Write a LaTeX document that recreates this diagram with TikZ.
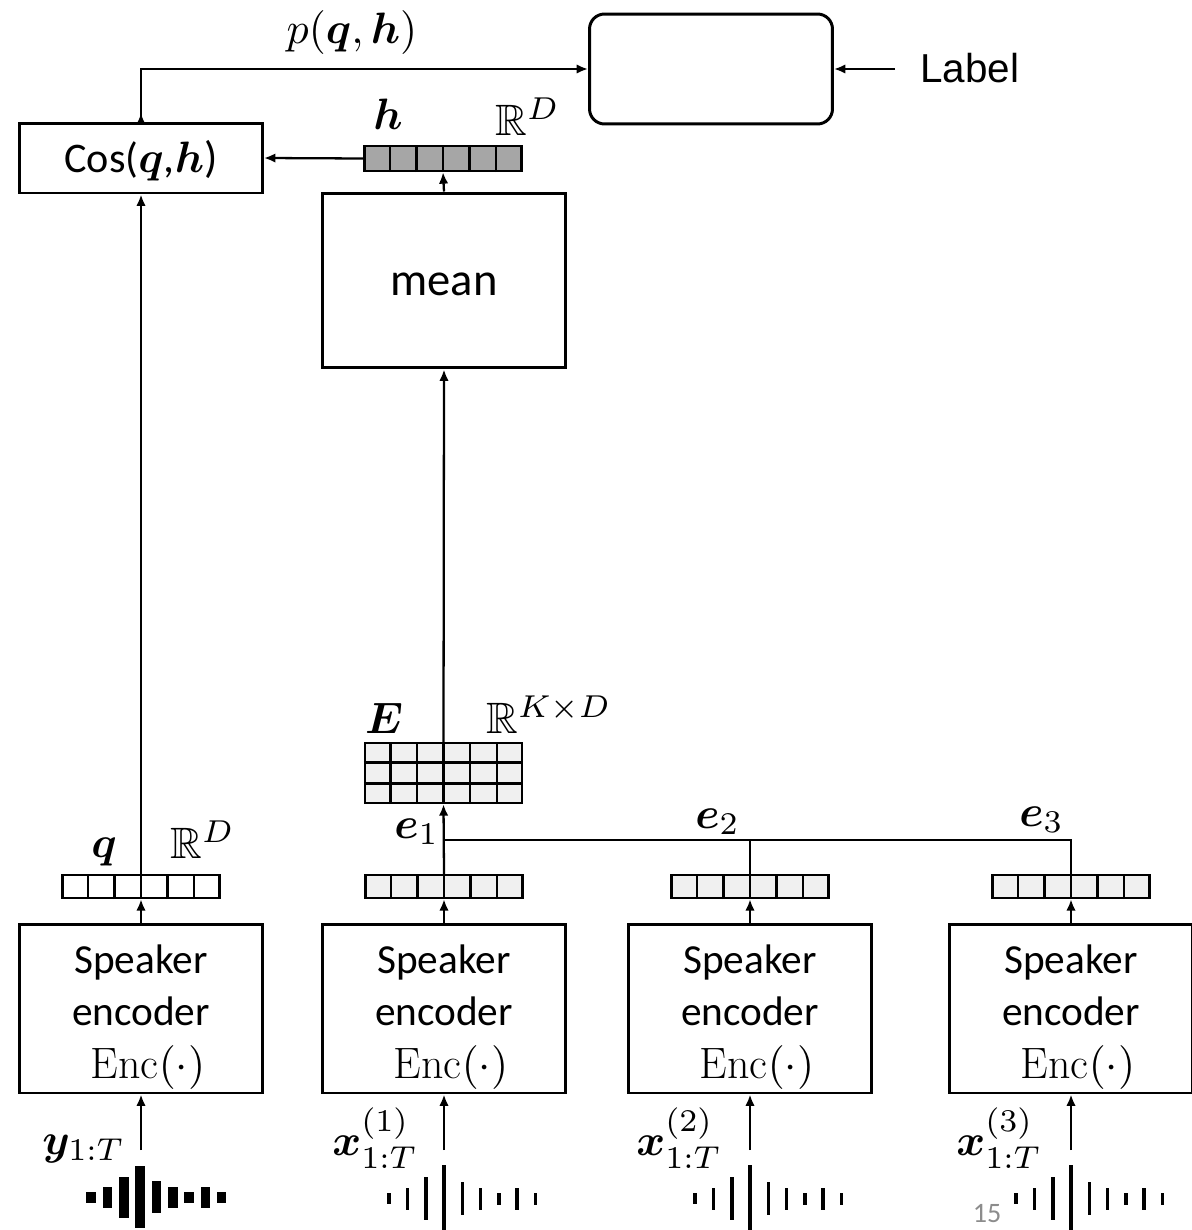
\documentclass[tikz,border=0pt]{standalone}
\usepackage{amsmath,amssymb,bm}
\usepackage{fontspec}
\newfontfamily\calibrifont{Carlito}
\newfontfamily\arialfont{Liberation Sans}
\usetikzlibrary{arrows.meta,calc}

% Computer Modern: 7pt design for scripts, 10pt design for the rest, scaled freely
\DeclareFontShape{OT1}{cmr}{m}{n}{<-20> cmr7 <20-> cmr10}{}
\DeclareFontShape{OT1}{cmr}{bx}{n}{<-20> cmbx7 <20-> cmbx10}{}
\DeclareFontShape{OML}{cmm}{m}{it}{<-20> cmmi7 <20-> cmmi10}{}
\DeclareFontShape{OML}{cmm}{b}{it}{<-20> cmmib7 <20-> cmmib10}{}
\DeclareFontShape{OMS}{cmsy}{m}{n}{<-20> cmsy7 <20-> cmsy10}{}
\DeclareFontShape{OMS}{cmsy}{b}{n}{<-20> cmbsy7 <20-> cmbsy10}{}
\DeclareFontShape{OMX}{cmex}{m}{n}{<-> cmex10}{}
\DeclareMathSizes{25}{25}{18}{13}

% vertical cell dividers of an embedding vector (6 cells)
\newcommand\celldivs[1]{%
  \foreach \k in {1,...,5}
    \draw[line width=1.3pt] ($(#1.south west)!\k/6!(#1.south east)$) -- ($(#1.north west)!\k/6!(#1.north east)$);}

\tikzset{
  box/.style={draw, line width=1.7pt, inner sep=0pt, minimum width=4.86cm},
  vecbox/.style={draw, line width=1.4pt, inner sep=0pt, minimum width=3.14cm, minimum height=0.46cm},
  arr/.style={line width=1.3pt, -{Latex[length=6.5pt,width=5.4pt]}},
  wire/.style={line width=1.3pt},
  mlbl/.style={inner sep=0pt, font=\fontsize{25}{29}\selectfont},
  enctxt/.style={inner sep=0pt, anchor=base, font=\calibrifont\fontsize{23.5}{28}\selectfont},
  enctex/.style={inner sep=0pt, anchor=base, font=\fontsize{25}{29}\selectfont},
  lightcell/.style={fill={rgb,255:red,240;green,240;blue,240}},
  darkcell/.style={fill={rgb,255:red,166;green,166;blue,166}},
}

\begin{document}
\begin{tikzpicture}[x=0.02cm, y=-0.02cm]
\useasboundingbox (0,0) rectangle (1191,1230);

% ---------- top part ----------
\node[box, minimum height=1.4cm] (cos) at (141,158) {};
\node[inner sep=0pt, anchor=base, font=\calibrifont\fontsize{24}{28}\selectfont] (costxt) at (141,173)
  {Cos(\fontsize{25}{29}\selectfont$\bm{q}$,$\bm{h}$)};

\node[box, minimum height=2.2cm, rounded corners=0.3cm] (lbox) at (711,69) {};
\node[inner sep=0pt, anchor=base west, font=\arialfont\fontsize{23}{28}\selectfont] (lbltxt) at (920,83) {Label};
\coordinate (lblfrom) at (895,69);
\draw[arr] (lblfrom) -- (lbox.east);

\node[mlbl, anchor=base] (ptxt) at (352,44) {$p(\bm{q},\bm{h})$};
\draw[arr] (cos.north) -- (cos.north |- lbox.west) -- (lbox.west);
\coordinate (costip) at (141,113);
\draw[arr] (cos.north) -- (costip);

\node[vecbox, darkcell, minimum height=0.5cm] (hvec) at (443,158.5) {};
\celldivs{hvec}
\node[mlbl, anchor=base] (hlbl) at (388,130) {$\bm{h}$};
\node[mlbl, anchor=base west] (hdim) at (495,135) {$\mathbb{R}^{D}$};
\draw[arr] (hvec.west) -- (cos.east);

\node[box, minimum height=3.5cm] (mean) at (444,280.5) {};
\node[inner sep=0pt, anchor=base, font=\calibrifont\fontsize{26.5}{30}\selectfont] (meantxt) at (444,295) {mean};
\draw[arr] (mean.north) -- (hvec.south);

% ---------- embedding matrix ----------
\node[draw, line width=1.4pt, lightcell, inner sep=0pt, minimum width=3.14cm, minimum height=1.2cm] (emat) at (443.5,773) {};
\celldivs{emat}
\foreach \r in {1,2}
  \draw[line width=1.3pt] ($(emat.north west)!\r/3!(emat.south west)$) -- ($(emat.north east)!\r/3!(emat.south east)$);
\node[mlbl, anchor=base] (elbl) at (384,733) {$\bm{E}$};
\node[mlbl, anchor=base west] (edim) at (486,733) {$\mathbb{R}^{K\times D}$};
\draw[arr] (emat.north) -- (mean.south);

% ---------- speaker encoders ----------
\foreach \n/\cx in {1/141, 2/444, 3/750, 4/1071} {
  \node[box, minimum height=3.38cm] (enc\n) at (\cx,1008.5) {};
  \node[enctxt] (enc\n-a) at (\cx,973) {Speaker};
  \node[enctxt] (enc\n-b) at (\cx,1025) {encoder};
  \node[enctex] (enc\n-c) at (\cx+7,1078) {$\mathrm{Enc}(\cdot)$};
  \coordinate (in\n) at (\cx,1150);
  \draw[arr] (in\n) -- (enc\n.south);
}

% ---------- embedding vectors ----------
\node[vecbox, fill=white] (qvec) at (141,886.5) {};
\node[vecbox, lightcell] (e1vec) at (444,886.5) {};
\node[vecbox, lightcell] (e2vec) at (750,886.5) {};
\node[vecbox, lightcell] (e3vec) at (1071,886.5) {};
\foreach \v/\n in {qvec/1, e1vec/2, e2vec/3, e3vec/4} {
  \celldivs{\v}
  \draw[arr] (enc\n.north) -- (\v.south);
}

\node[mlbl, anchor=base] (qlbl) at (104,857) {$\bm{q}$};
\node[mlbl, anchor=base west] (qdim) at (170,858) {$\mathbb{R}^{D}$};
\draw[arr] (qvec.north) -- (cos.south);

\coordinate (jn) at (444,840);
\draw[arr] (e1vec.north) -- (emat.south);
\draw[wire] (e2vec.north) -- (e2vec.north |- jn);
\draw[wire] (e3vec.north) |- (jn);
\node[mlbl, anchor=base east] (e1lbl) at (438,838) {$\bm{e}_1$};
\node[mlbl, anchor=base] (e2lbl) at (717,828) {$\bm{e}_2$};
\node[mlbl, anchor=base] (e3lbl) at (1041,826) {$\bm{e}_3$};

% ---------- input utterances ----------
\node[mlbl, anchor=base east] (ylbl) at (124,1154) {$\bm{y}_{1:T}$};
\node[mlbl, anchor=base east] (x1lbl) at (417,1155) {$\bm{x}^{(1)}_{1:T}$};
\node[mlbl, anchor=base east] (x2lbl) at (721,1155) {$\bm{x}^{(2)}_{1:T}$};
\node[mlbl, anchor=base east] (x3lbl) at (1041,1155) {$\bm{x}^{(3)}_{1:T}$};

% waveform of the query utterance (thick bars)
\begin{scope}[shift={(140,1197)}]
  \foreach \dx/\hh in {-49/5.5, -32.5/10.5, -16/20.5, 0/31, 16.5/16, 33/10.5, 49/5.5, 65.5/10.5, 81.5/5.5}
    \fill (\dx-4.75,-\hh) rectangle (\dx+4.75,\hh);
\end{scope}
% waveforms of the enrolment utterances (thin bars)
\foreach \cx in {444, 750, 1071} {
  \begin{scope}[shift={(\cx,1198.5)}]
    \foreach \dx/\hh in {-54.9/5.5, -36.6/11, -18.3/21.5, 0/34, 18.3/16.5, 36.6/11, 54.9/6, 73.2/11, 91.5/6}
      \fill (\dx-1.8,-\hh) rectangle (\dx+1.8,\hh);
  \end{scope}
}

% page number
\node[inner sep=0pt, anchor=base, text={rgb,255:red,140;green,140;blue,140}, font=\calibrifont\fontsize{16}{18}\selectfont] (pageno) at (987,1222) {15};
\end{tikzpicture}
\end{document}
